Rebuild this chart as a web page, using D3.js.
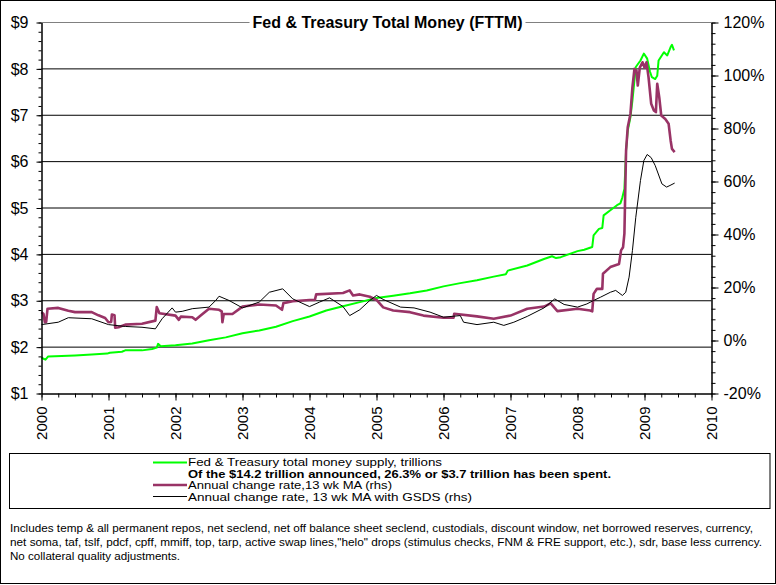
<!DOCTYPE html>
<html><head><meta charset="utf-8">
<script src="https://cdn.jsdelivr.net/npm/d3@7"></script>
<style>
body{margin:0;background:#fff}
text{font-family:Arial,"Liberation Sans",sans-serif;fill:#000}
</style>
</head><body>
<svg id="c" width="776" height="585"></svg>
<script>
// ---------- data ----------
const titleText = "Fed & Treasury Total Money (FTTM)";
const yearTicks = [2000,2001,2002,2003,2004,2005,2006,2007,2008,2009,2010];
const dollarTicks = [1,2,3,4,5,6,7,8,9];
const pctTicks = [-20,0,20,40,60,80,100,120];

// Fed & Treasury total money supply, trillions (left axis)
const greenT = [2000.00,2000.03,2000.06,2000.10,2000.30,2000.50,2000.75,2000.98,2001.02,2001.20,2001.25,2001.50,2001.65,2001.72,2001.74,2001.78,2002.00,2002.25,2002.50,2002.75,2003.00,2003.25,2003.50,2003.75,2004.00,2004.25,2004.50,2004.75,2005.00,2005.25,2005.50,2005.75,2006.00,2006.25,2006.50,2006.75,2006.93,2006.96,2007.25,2007.50,2007.62,2007.68,2007.75,2008.00,2008.10,2008.22,2008.24,2008.32,2008.37,2008.39,2008.49,2008.59,2008.64,2008.67,2008.70,2008.71,2008.725,2008.75,2008.79,2008.82,2008.87,2008.94,2008.99,2009.04,2009.08,2009.11,2009.16,2009.19,2009.21,2009.29,2009.34,2009.39,2009.41,2009.44];
const greenV = [1.78,1.75,1.73,1.80,1.81,1.82,1.84,1.86,1.88,1.90,1.93,1.93,1.96,1.99,2.07,2.02,2.04,2.08,2.15,2.21,2.30,2.36,2.44,2.56,2.66,2.79,2.88,2.97,3.06,3.11,3.16,3.22,3.31,3.38,3.44,3.52,3.57,3.65,3.76,3.90,3.96,3.92,3.94,4.07,4.10,4.16,4.41,4.55,4.57,4.84,4.95,5.06,5.10,5.23,5.41,5.73,6.24,6.67,6.96,7.32,8.04,8.18,8.33,8.22,7.95,7.82,7.78,7.85,8.18,8.36,8.29,8.47,8.52,8.40];

// Annual change rate, 13 wk MA (rhs, %)
const purpleT = [2000.00,2000.03,2000.05,2000.07,2000.09,2000.25,2000.40,2000.50,2000.75,2000.85,2000.95,2001.00,2001.04,2001.05,2001.09,2001.10,2001.15,2001.25,2001.50,2001.70,2001.72,2001.76,2002.00,2002.05,2002.08,2002.25,2002.30,2002.38,2002.50,2002.65,2002.69,2002.70,2002.72,2002.85,2003.00,2003.25,2003.50,2003.59,2003.61,2003.75,2004.00,2004.08,2004.10,2004.50,2004.60,2004.65,2004.75,2004.90,2005.00,2005.10,2005.25,2005.50,2005.70,2006.00,2006.15,2006.16,2006.50,2006.75,2007.00,2007.25,2007.50,2007.60,2007.70,2008.00,2008.19,2008.22,2008.24,2008.29,2008.37,2008.38,2008.49,2008.62,2008.65,2008.68,2008.70,2008.71,2008.725,2008.75,2008.79,2008.82,2008.85,2008.88,2008.90,2008.93,2008.97,2009.00,2009.03,2009.06,2009.10,2009.14,2009.17,2009.19,2009.22,2009.25,2009.31,2009.36,2009.39,2009.41,2009.45];
const purpleV = [10.7,10.0,6.9,7.0,12.0,12.3,11.2,10.7,10.7,9.5,8.5,6.9,7.0,9.8,9.5,4.8,5.0,6.0,6.3,7.5,12.6,10.3,9.4,7.8,9.0,8.8,7.8,9.5,12.0,11.6,11.0,6.9,10.0,10.0,12.8,13.6,13.2,11.6,14.1,14.8,15.3,15.3,17.4,17.9,18.9,17.0,17.4,16.5,15.3,12.5,11.3,10.7,9.4,8.6,8.6,10.1,9.1,8.2,9.4,12.0,12.8,14.0,11.1,12.0,11.3,11.0,17.6,19.5,19.5,25.2,27.7,28.9,34.0,35.2,40.3,52.8,71.7,80.5,85.5,95.6,102.5,101.9,96.2,103.0,105.0,103.0,105.0,99.4,89.3,86.8,86.2,96.9,91.8,84.9,83.6,81.8,75.5,72.3,71.1];

// Annual change rate, 13 wk MA with GSDS (rhs, %)
const blackT = [2000.00,2000.25,2000.40,2000.75,2001.00,2001.25,2001.50,2001.70,2001.80,2001.95,2002.00,2002.10,2002.25,2002.50,2002.60,2002.65,2002.80,2003.00,2003.25,2003.40,2003.60,2003.75,2004.00,2004.15,2004.30,2004.50,2004.60,2004.75,2004.90,2005.00,2005.10,2005.36,2005.56,2005.80,2006.00,2006.25,2006.30,2006.50,2006.75,2006.90,2007.05,2007.25,2007.50,2007.66,2007.80,2008.00,2008.14,2008.24,2008.34,2008.49,2008.57,2008.67,2008.72,2008.77,2008.82,2008.87,2008.94,2008.99,2009.04,2009.10,2009.16,2009.26,2009.33,2009.38,2009.45];
const blackV = [6.0,6.9,8.6,8.2,6.0,5.3,5.0,4.4,8.2,12.3,10.7,11.0,12.0,12.6,15.1,16.7,15.1,12.3,14.5,18.2,19.5,15.7,12.8,14.5,16.1,12.8,9.4,11.6,15.1,17.0,15.5,12.6,12.3,10.7,8.8,9.4,6.9,6.0,6.9,5.7,6.9,9.1,12.3,15.7,13.6,12.6,13.8,15.1,16.3,18.2,18.9,17.0,18.2,23.9,34.0,46.5,60.4,67.9,70.2,69.0,66.0,59.1,57.9,58.5,59.4];

const legendLabels = [
  "Fed & Treasury total money supply, trillions",
  "Of the $14.2 trillion announced, 26.3% or $3.7 trillion has been spent.",
  "Annual change rate,13 wk MA (rhs)",
  "Annual change rate, 13 wk MA with GSDS (rhs)"
];
const footnotes = [
  "Includes temp & all permanent repos, net seclend, net off balance sheet seclend, custodials, discount window, net borrowed reserves, currency,",
  "net soma, taf, tslf, pdcf, cpff, mmiff, top, tarp, active swap lines,\"helo\" drops (stimulus checks, FNM & FRE support, etc.), sdr, base less currency.",
  "No collateral quality adjustments."
];

// ---------- layout ----------
const svg = d3.select("#c");
const L = 41.5, R = 711.5, T = 22.5, B = 393.5;
const x = d3.scaleLinear().domain([2000, 2010]).range([L, R]);
const yL = d3.scaleLinear().domain([1, 9]).range([B, T]);
const yR = d3.scaleLinear().domain([-20, 120]).range([B, T]);
const GREEN = "#00ff00", PURPLE = "#993366";

// outer border
svg.append("rect").attr("x",0.5).attr("y",0.5).attr("width",775).attr("height",583)
  .attr("fill","none").attr("stroke","#000");

// gridlines
svg.append("g").selectAll("line").data(dollarTicks.filter(d => d > 1 && d < 9)).join("line")
  .attr("x1", L).attr("x2", R).attr("y1", d => yL(d)).attr("y2", d => yL(d))
  .attr("stroke", "#000").attr("stroke-width", 1);
svg.append("line").attr("x1", L).attr("x2", R).attr("y1", yL(9)).attr("y2", yL(9))
  .attr("stroke", "#808080");

// series
function series(ts, vs, ys, color, w) {
  const pts = ts.map((t, i) => [x(t), ys(vs[i])]);
  svg.append("path").attr("d", d3.line()(pts)).attr("fill", "none")
    .attr("stroke", color).attr("stroke-width", w).attr("stroke-linejoin", "round");
}
series(greenT, greenV, yL, GREEN, 2);
series(purpleT, purpleV, yR, PURPLE, 2.6);
series(blackT, blackV, yR, "#000", 1);

// axes
function styleAxis(g, size) {
  g.selectAll("path,line").attr("stroke", "#000");
  g.selectAll("text").style("font-size", size + "px").style("font-family", "Arial, 'Liberation Sans', sans-serif").attr("fill", "#000");
}
// left
const minorL = d3.range(1, 9.001, 0.2).map(d => +d.toFixed(1));
svg.append("g").attr("transform", `translate(${L},0)`)
  .call(d3.axisLeft(yL).tickValues(minorL).tickSize(3).tickSizeOuter(0).tickFormat(""))
  .call(g => styleAxis(g, 16));
svg.append("g").attr("transform", `translate(${L},0)`)
  .call(d3.axisLeft(yL).tickValues(dollarTicks).tickSize(5).tickPadding(8).tickSizeOuter(0).tickFormat(d => "$" + d))
  .call(g => styleAxis(g, 16));
// right
const minorR = d3.range(-20, 120.001, 4);
svg.append("g").attr("transform", `translate(${R},0)`)
  .call(d3.axisRight(yR).tickValues(minorR).tickSize(4).tickSizeOuter(0).tickFormat(""))
  .call(g => styleAxis(g, 16));
svg.append("g").attr("transform", `translate(${R},0)`)
  .call(d3.axisRight(yR).tickValues(pctTicks).tickSize(7).tickPadding(5).tickSizeOuter(0).tickFormat(d => d + "%"))
  .call(g => styleAxis(g, 16));
// bottom
const minorX = d3.range(2000, 2010.001, 0.25);
svg.append("g").attr("transform", `translate(0,${B})`)
  .call(d3.axisBottom(x).tickValues(minorX).tickSize(4).tickSizeOuter(0).tickFormat(""))
  .call(g => styleAxis(g, 15));
svg.append("g").attr("transform", `translate(0,${B})`)
  .call(d3.axisBottom(x).tickValues(yearTicks).tickSize(7).tickSizeOuter(0).tickFormat(d => String(d)))
  .call(g => styleAxis(g, 15))
  .call(g => g.selectAll("text").attr("transform", "rotate(-90)").attr("text-anchor", "end")
     .attr("x", -13).attr("y", 0).attr("dy", "0.36em"));

// title
const tg = svg.append("g");
const tt = tg.append("text").attr("x", 387.5).attr("y", yL(9)).attr("dy", "0.36em")
  .attr("text-anchor", "middle").style("font-size", "16px").style("font-weight", "bold").text(titleText);
const bb = tt.node().getBBox();
tg.insert("rect", "text").attr("x", bb.x - 3).attr("y", bb.y).attr("width", bb.width + 6).attr("height", bb.height).attr("fill", "#fff");

// legend
svg.append("rect").attr("x", 9.5).attr("y", 453.5).attr("width", 760.5).attr("height", 55)
  .attr("fill", "#fff").attr("stroke", "#000");
const legBase = [466, 477.5, 489, 500.5];
const legLen = [254, 423, 204, 284];
legendLabels.forEach((s, i) => {
  svg.append("text").attr("x", 188).attr("y", legBase[i]).style("font-size", "11px")
    .style("font-weight", i === 1 ? "bold" : "normal")
    .attr("textLength", legLen[i]).attr("lengthAdjust", "spacingAndGlyphs").text(s);
});
const legSamples = [[462.5, GREEN, 2], [485, PURPLE, 2.6], [496.5, "#000", 1]];
legSamples.forEach(([yy, c, w]) => {
  svg.append("line").attr("x1", 153).attr("x2", 187).attr("y1", yy).attr("y2", yy)
    .attr("stroke", c).attr("stroke-width", w);
});

// footnotes
const fnBase = [532, 546, 560];
const fnLen = [743, 752, 170];
footnotes.forEach((s, i) => {
  svg.append("text").attr("x", 10).attr("y", fnBase[i]).style("font-size", "11.5px")
    .attr("textLength", fnLen[i]).attr("lengthAdjust", "spacingAndGlyphs").text(s);
});
</script>
</body></html>
